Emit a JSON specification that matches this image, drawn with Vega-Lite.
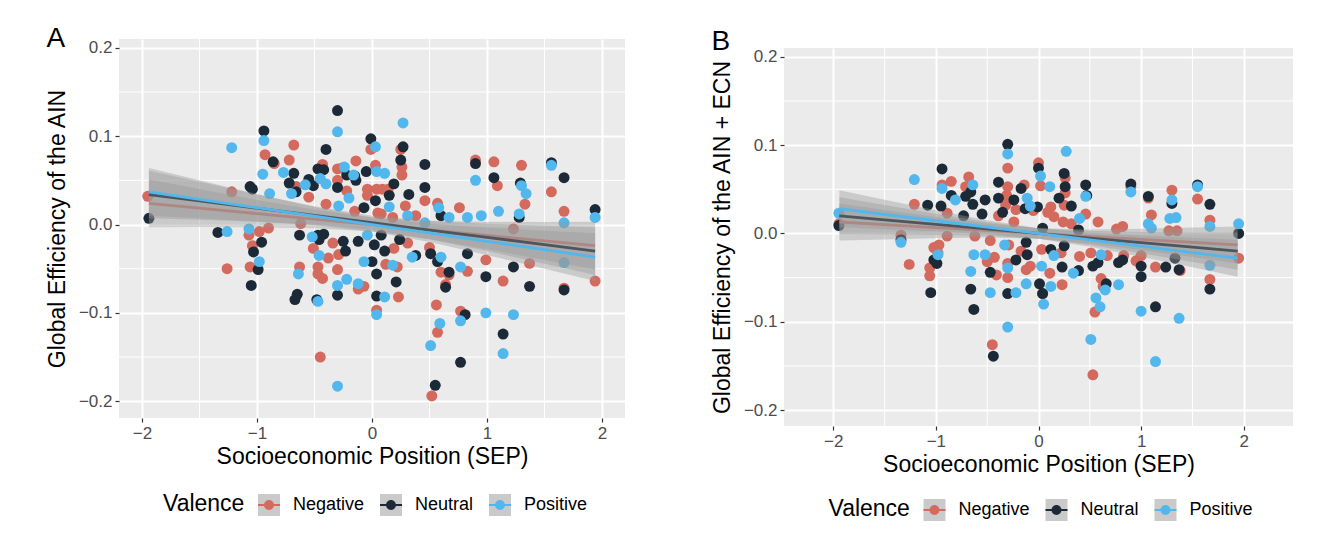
{
 "$schema": "https://vega.github.io/schema/vega-lite/v6.json",
 "background": "#FFFFFF",
 "padding": {"left": 46, "top": 24, "right": 5, "bottom": 0},
 "spacing": 85,
 "datasets": {
  "minorXA": [{"v": -1.5}, {"v": -0.5}, {"v": 0.5}, {"v": 1.5}],
  "minorY": [{"v": -0.15}, {"v": -0.05}, {"v": 0.05}, {"v": 0.15}],
  "ptsA": [
   {"SEP": -1.95, "GE": 0.032, "Valence": "Negative"}, {"SEP": -1.22, "GE": 0.037, "Valence": "Negative"}, {"SEP": -1.26, "GE": -0.05, "Valence": "Negative"}, {"SEP": -1.07, "GE": -0.012, "Valence": "Negative"}, {"SEP": -1.04, "GE": -0.024, "Valence": "Negative"}, {"SEP": -1.06, "GE": -0.048, "Valence": "Negative"}, {"SEP": -0.98, "GE": -0.008, "Valence": "Negative"}, {"SEP": -0.93, "GE": 0.079, "Valence": "Negative"}, {"SEP": -0.85, "GE": 0.069, "Valence": "Negative"}, {"SEP": -0.9, "GE": -0.004, "Valence": "Negative"}, {"SEP": -0.68, "GE": 0.09, "Valence": "Negative"}, {"SEP": -0.72, "GE": 0.073, "Valence": "Negative"}, {"SEP": -0.66, "GE": 0.043, "Valence": "Negative"}, {"SEP": -0.62, "GE": 0.001, "Valence": "Negative"}, {"SEP": -0.63, "GE": -0.048, "Valence": "Negative"}, {"SEP": -0.55, "GE": 0.031, "Valence": "Negative"}, {"SEP": -0.51, "GE": -0.027, "Valence": "Negative"}, {"SEP": -0.47, "GE": -0.048, "Valence": "Negative"}, {"SEP": -0.47, "GE": -0.056, "Valence": "Negative"}, {"SEP": -0.43, "GE": -0.061, "Valence": "Negative"}, {"SEP": -0.45, "GE": -0.15, "Valence": "Negative"}, {"SEP": -0.43, "GE": 0.068, "Valence": "Negative"}, {"SEP": -0.4, "GE": 0.023, "Valence": "Negative"}, {"SEP": -0.38, "GE": -0.038, "Valence": "Negative"}, {"SEP": -0.34, "GE": -0.021, "Valence": "Negative"}, {"SEP": -0.3, "GE": 0.05, "Valence": "Negative"}, {"SEP": -0.3, "GE": 0.063, "Valence": "Negative"}, {"SEP": -0.26, "GE": 0.064, "Valence": "Negative"}, {"SEP": -0.3, "GE": -0.051, "Valence": "Negative"}, {"SEP": -0.29, "GE": -0.034, "Valence": "Negative"}, {"SEP": -0.22, "GE": 0.038, "Valence": "Negative"}, {"SEP": -0.15, "GE": 0.015, "Valence": "Negative"}, {"SEP": -0.14, "GE": 0.072, "Valence": "Negative"}, {"SEP": -0.12, "GE": -0.073, "Valence": "Negative"}, {"SEP": -0.07, "GE": -0.07, "Valence": "Negative"}, {"SEP": -0.04, "GE": 0.033, "Valence": "Negative"}, {"SEP": -0.04, "GE": 0.04, "Valence": "Negative"}, {"SEP": -0.01, "GE": 0.085, "Valence": "Negative"}, {"SEP": 0.03, "GE": 0.067, "Valence": "Negative"}, {"SEP": 0.04, "GE": 0.04, "Valence": "Negative"}, {"SEP": 0.09, "GE": 0.04, "Valence": "Negative"}, {"SEP": 0.14, "GE": 0.04, "Valence": "Negative"}, {"SEP": 0.08, "GE": 0.012, "Valence": "Negative"}, {"SEP": 0.05, "GE": 0.013, "Valence": "Negative"}, {"SEP": 0.18, "GE": 0.008, "Valence": "Negative"}, {"SEP": 0.19, "GE": -0.027, "Valence": "Negative"}, {"SEP": 0.23, "GE": -0.082, "Valence": "Negative"}, {"SEP": 0.22, "GE": -0.048, "Valence": "Negative"}, {"SEP": 0.12, "GE": -0.045, "Valence": "Negative"}, {"SEP": 0.04, "GE": -0.097, "Valence": "Negative"}, {"SEP": 0.25, "GE": 0.085, "Valence": "Negative"}, {"SEP": 0.26, "GE": 0.065, "Valence": "Negative"}, {"SEP": 0.26, "GE": 0.056, "Valence": "Negative"}, {"SEP": 0.29, "GE": 0.021, "Valence": "Negative"}, {"SEP": 0.31, "GE": -0.021, "Valence": "Negative"}, {"SEP": 0.38, "GE": 0.01, "Valence": "Negative"}, {"SEP": 0.46, "GE": 0.027, "Valence": "Negative"}, {"SEP": 0.5, "GE": -0.026, "Valence": "Negative"}, {"SEP": 0.57, "GE": 0.024, "Valence": "Negative"}, {"SEP": 0.56, "GE": -0.091, "Valence": "Negative"}, {"SEP": 0.57, "GE": -0.122, "Valence": "Negative"}, {"SEP": 0.52, "GE": -0.194, "Valence": "Negative"}, {"SEP": 0.6, "GE": -0.054, "Valence": "Negative"}, {"SEP": 0.64, "GE": -0.068, "Valence": "Negative"}, {"SEP": 0.67, "GE": -0.057, "Valence": "Negative"}, {"SEP": 0.76, "GE": 0.019, "Valence": "Negative"}, {"SEP": 0.77, "GE": -0.098, "Valence": "Negative"}, {"SEP": 0.83, "GE": -0.053, "Valence": "Negative"}, {"SEP": 0.9, "GE": 0.073, "Valence": "Negative"}, {"SEP": 0.99, "GE": -0.04, "Valence": "Negative"}, {"SEP": 1.06, "GE": 0.071, "Valence": "Negative"}, {"SEP": 1.09, "GE": 0.044, "Valence": "Negative"}, {"SEP": 1.14, "GE": -0.064, "Valence": "Negative"}, {"SEP": 1.23, "GE": -0.005, "Valence": "Negative"}, {"SEP": 1.3, "GE": 0.067, "Valence": "Negative"}, {"SEP": 1.33, "GE": 0.023, "Valence": "Negative"}, {"SEP": 1.37, "GE": -0.044, "Valence": "Negative"}, {"SEP": 1.56, "GE": 0.037, "Valence": "Negative"}, {"SEP": 1.67, "GE": 0.015, "Valence": "Negative"}, {"SEP": 1.67, "GE": -0.072, "Valence": "Negative"}, {"SEP": 1.94, "GE": -0.064, "Valence": "Negative"},
   {"SEP": -1.94, "GE": 0.007, "Valence": "Neutral"}, {"SEP": -1.34, "GE": -0.009, "Valence": "Neutral"}, {"SEP": -1.06, "GE": 0.043, "Valence": "Neutral"}, {"SEP": -1.04, "GE": 0.04, "Valence": "Neutral"}, {"SEP": -0.94, "GE": 0.106, "Valence": "Neutral"}, {"SEP": -0.96, "GE": -0.02, "Valence": "Neutral"}, {"SEP": -1.03, "GE": -0.031, "Valence": "Neutral"}, {"SEP": -0.99, "GE": -0.051, "Valence": "Neutral"}, {"SEP": -1.05, "GE": -0.069, "Valence": "Neutral"}, {"SEP": -0.86, "GE": 0.071, "Valence": "Neutral"}, {"SEP": -0.68, "GE": 0.058, "Valence": "Neutral"}, {"SEP": -0.72, "GE": 0.047, "Valence": "Neutral"}, {"SEP": -0.66, "GE": 0.037, "Valence": "Neutral"}, {"SEP": -0.63, "GE": -0.012, "Valence": "Neutral"}, {"SEP": -0.67, "GE": -0.085, "Valence": "Neutral"}, {"SEP": -0.65, "GE": -0.079, "Valence": "Neutral"}, {"SEP": -0.55, "GE": 0.051, "Valence": "Neutral"}, {"SEP": -0.51, "GE": 0.044, "Valence": "Neutral"}, {"SEP": -0.4, "GE": 0.085, "Valence": "Neutral"}, {"SEP": -0.47, "GE": 0.063, "Valence": "Neutral"}, {"SEP": -0.42, "GE": 0.062, "Valence": "Neutral"}, {"SEP": -0.47, "GE": -0.012, "Valence": "Neutral"}, {"SEP": -0.46, "GE": -0.017, "Valence": "Neutral"}, {"SEP": -0.48, "GE": -0.085, "Valence": "Neutral"}, {"SEP": -0.42, "GE": -0.011, "Valence": "Neutral"}, {"SEP": -0.3, "GE": 0.129, "Valence": "Neutral"}, {"SEP": -0.3, "GE": -0.08, "Valence": "Neutral"}, {"SEP": -0.3, "GE": 0.042, "Valence": "Neutral"}, {"SEP": -0.22, "GE": 0.056, "Valence": "Neutral"}, {"SEP": -0.25, "GE": -0.019, "Valence": "Neutral"}, {"SEP": -0.23, "GE": -0.03, "Valence": "Neutral"}, {"SEP": -0.14, "GE": 0.05, "Valence": "Neutral"}, {"SEP": -0.15, "GE": 0.055, "Valence": "Neutral"}, {"SEP": -0.12, "GE": -0.019, "Valence": "Neutral"}, {"SEP": -0.05, "GE": 0.06, "Valence": "Neutral"}, {"SEP": -0.01, "GE": 0.097, "Valence": "Neutral"}, {"SEP": 0.03, "GE": 0.027, "Valence": "Neutral"}, {"SEP": -0.07, "GE": 0.019, "Valence": "Neutral"}, {"SEP": 0.02, "GE": -0.023, "Valence": "Neutral"}, {"SEP": 0.0, "GE": -0.042, "Valence": "Neutral"}, {"SEP": 0.04, "GE": -0.056, "Valence": "Neutral"}, {"SEP": 0.04, "GE": -0.081, "Valence": "Neutral"}, {"SEP": 0.08, "GE": -0.012, "Valence": "Neutral"}, {"SEP": 0.11, "GE": -0.03, "Valence": "Neutral"}, {"SEP": 0.15, "GE": 0.033, "Valence": "Neutral"}, {"SEP": 0.19, "GE": 0.046, "Valence": "Neutral"}, {"SEP": 0.25, "GE": 0.073, "Valence": "Neutral"}, {"SEP": 0.27, "GE": 0.088, "Valence": "Neutral"}, {"SEP": 0.21, "GE": -0.065, "Valence": "Neutral"}, {"SEP": 0.24, "GE": -0.017, "Valence": "Neutral"}, {"SEP": 0.32, "GE": 0.034, "Valence": "Neutral"}, {"SEP": 0.38, "GE": -0.035, "Valence": "Neutral"}, {"SEP": 0.46, "GE": 0.068, "Valence": "Neutral"}, {"SEP": 0.46, "GE": 0.042, "Valence": "Neutral"}, {"SEP": 0.51, "GE": -0.033, "Valence": "Neutral"}, {"SEP": 0.57, "GE": -0.042, "Valence": "Neutral"}, {"SEP": 0.6, "GE": 0.01, "Valence": "Neutral"}, {"SEP": 0.67, "GE": -0.054, "Valence": "Neutral"}, {"SEP": 0.64, "GE": -0.071, "Valence": "Neutral"}, {"SEP": 0.55, "GE": -0.182, "Valence": "Neutral"}, {"SEP": 0.77, "GE": -0.156, "Valence": "Neutral"}, {"SEP": 0.81, "GE": -0.102, "Valence": "Neutral"}, {"SEP": 0.83, "GE": -0.033, "Valence": "Neutral"}, {"SEP": 0.9, "GE": 0.069, "Valence": "Neutral"}, {"SEP": 0.99, "GE": -0.059, "Valence": "Neutral"}, {"SEP": 1.06, "GE": 0.053, "Valence": "Neutral"}, {"SEP": 1.14, "GE": -0.124, "Valence": "Neutral"}, {"SEP": 1.23, "GE": -0.048, "Valence": "Neutral"}, {"SEP": 1.28, "GE": 0.008, "Valence": "Neutral"}, {"SEP": 1.29, "GE": 0.047, "Valence": "Neutral"}, {"SEP": 1.37, "GE": -0.07, "Valence": "Neutral"}, {"SEP": 1.56, "GE": 0.07, "Valence": "Neutral"}, {"SEP": 1.67, "GE": 0.053, "Valence": "Neutral"}, {"SEP": 1.67, "GE": -0.074, "Valence": "Neutral"}, {"SEP": 1.94, "GE": 0.017, "Valence": "Neutral"},
   {"SEP": -1.22, "GE": 0.087, "Valence": "Positive"}, {"SEP": -1.26, "GE": -0.008, "Valence": "Positive"}, {"SEP": -1.07, "GE": -0.005, "Valence": "Positive"}, {"SEP": -0.98, "GE": -0.042, "Valence": "Positive"}, {"SEP": -0.94, "GE": 0.095, "Valence": "Positive"}, {"SEP": -0.95, "GE": 0.057, "Valence": "Positive"}, {"SEP": -0.89, "GE": 0.035, "Valence": "Positive"}, {"SEP": -0.77, "GE": 0.059, "Valence": "Positive"}, {"SEP": -0.7, "GE": 0.035, "Valence": "Positive"}, {"SEP": -0.64, "GE": -0.056, "Valence": "Positive"}, {"SEP": -0.52, "GE": -0.014, "Valence": "Positive"}, {"SEP": -0.45, "GE": 0.052, "Valence": "Positive"}, {"SEP": -0.46, "GE": -0.035, "Valence": "Positive"}, {"SEP": -0.47, "GE": -0.087, "Valence": "Positive"}, {"SEP": -0.4, "GE": 0.046, "Valence": "Positive"}, {"SEP": -0.3, "GE": 0.105, "Valence": "Positive"}, {"SEP": -0.3, "GE": -0.069, "Valence": "Positive"}, {"SEP": -0.29, "GE": 0.021, "Valence": "Positive"}, {"SEP": -0.3, "GE": -0.183, "Valence": "Positive"}, {"SEP": -0.22, "GE": -0.062, "Valence": "Positive"}, {"SEP": -0.24, "GE": 0.065, "Valence": "Positive"}, {"SEP": -0.16, "GE": 0.056, "Valence": "Positive"}, {"SEP": -0.12, "GE": -0.067, "Valence": "Positive"}, {"SEP": -0.07, "GE": -0.042, "Valence": "Positive"}, {"SEP": -0.04, "GE": -0.012, "Valence": "Positive"}, {"SEP": 0.03, "GE": 0.088, "Valence": "Positive"}, {"SEP": 0.04, "GE": 0.06, "Valence": "Positive"}, {"SEP": 0.11, "GE": 0.058, "Valence": "Positive"}, {"SEP": 0.04, "GE": -0.102, "Valence": "Positive"}, {"SEP": 0.11, "GE": -0.082, "Valence": "Positive"}, {"SEP": 0.18, "GE": -0.046, "Valence": "Positive"}, {"SEP": 0.27, "GE": 0.115, "Valence": "Positive"}, {"SEP": 0.31, "GE": 0.01, "Valence": "Positive"}, {"SEP": 0.35, "GE": -0.037, "Valence": "Positive"}, {"SEP": 0.46, "GE": 0.002, "Valence": "Positive"}, {"SEP": 0.58, "GE": 0.019, "Valence": "Positive"}, {"SEP": 0.59, "GE": -0.112, "Valence": "Positive"}, {"SEP": 0.51, "GE": -0.137, "Valence": "Positive"}, {"SEP": 0.6, "GE": -0.037, "Valence": "Positive"}, {"SEP": 0.67, "GE": 0.008, "Valence": "Positive"}, {"SEP": 0.77, "GE": -0.048, "Valence": "Positive"}, {"SEP": 0.77, "GE": -0.109, "Valence": "Positive"}, {"SEP": 0.83, "GE": 0.008, "Valence": "Positive"}, {"SEP": 0.9, "GE": 0.05, "Valence": "Positive"}, {"SEP": 0.95, "GE": 0.01, "Valence": "Positive"}, {"SEP": 0.99, "GE": -0.1, "Valence": "Positive"}, {"SEP": 1.1, "GE": 0.015, "Valence": "Positive"}, {"SEP": 1.14, "GE": -0.146, "Valence": "Positive"}, {"SEP": 1.23, "GE": -0.102, "Valence": "Positive"}, {"SEP": 1.3, "GE": 0.044, "Valence": "Positive"}, {"SEP": 1.34, "GE": 0.035, "Valence": "Positive"}, {"SEP": 1.28, "GE": 0.012, "Valence": "Positive"}, {"SEP": 1.56, "GE": 0.067, "Valence": "Positive"}, {"SEP": 1.67, "GE": 0.002, "Valence": "Positive"}, {"SEP": 1.67, "GE": -0.043, "Valence": "Positive"}, {"SEP": 1.94, "GE": 0.008, "Valence": "Positive"}, {"SEP": -0.58, "GE": 0.045, "Valence": "Positive"}, {"SEP": -0.2, "GE": 0.03, "Valence": "Positive"}, {"SEP": 0.15, "GE": 0.02, "Valence": "Positive"}
  ],
  "ptsB": [
   {"SEP": -1.945, "GE": 0.011, "Valence": "Negative"}, {"SEP": -1.34, "GE": -0.002, "Valence": "Negative"}, {"SEP": -1.26, "GE": -0.035, "Valence": "Negative"}, {"SEP": -1.21, "GE": 0.033, "Valence": "Negative"}, {"SEP": -1.06, "GE": -0.039, "Valence": "Negative"}, {"SEP": -1.06, "GE": -0.048, "Valence": "Negative"}, {"SEP": -1.02, "GE": -0.016, "Valence": "Negative"}, {"SEP": -0.97, "GE": -0.013, "Valence": "Negative"}, {"SEP": -0.98, "GE": -0.022, "Valence": "Negative"}, {"SEP": -0.94, "GE": 0.055, "Valence": "Negative"}, {"SEP": -0.85, "GE": 0.059, "Valence": "Negative"}, {"SEP": -0.89, "GE": -0.003, "Valence": "Negative"}, {"SEP": -0.89, "GE": 0.023, "Valence": "Negative"}, {"SEP": -0.68, "GE": 0.064, "Valence": "Negative"}, {"SEP": -0.71, "GE": 0.053, "Valence": "Negative"}, {"SEP": -0.62, "GE": -0.003, "Valence": "Negative"}, {"SEP": -0.47, "GE": -0.008, "Valence": "Negative"}, {"SEP": -0.5, "GE": -0.032, "Valence": "Negative"}, {"SEP": -0.43, "GE": -0.027, "Valence": "Negative"}, {"SEP": -0.41, "GE": -0.047, "Valence": "Negative"}, {"SEP": -0.45, "GE": -0.126, "Valence": "Negative"}, {"SEP": -0.39, "GE": 0.02, "Valence": "Negative"}, {"SEP": -0.32, "GE": 0.032, "Valence": "Negative"}, {"SEP": -0.31, "GE": 0.043, "Valence": "Negative"}, {"SEP": -0.3, "GE": 0.074, "Valence": "Negative"}, {"SEP": -0.3, "GE": 0.053, "Valence": "Negative"}, {"SEP": -0.29, "GE": -0.013, "Valence": "Negative"}, {"SEP": -0.3, "GE": -0.034, "Valence": "Negative"}, {"SEP": -0.3, "GE": -0.05, "Valence": "Negative"}, {"SEP": -0.24, "GE": 0.013, "Valence": "Negative"}, {"SEP": -0.22, "GE": 0.027, "Valence": "Negative"}, {"SEP": -0.14, "GE": 0.055, "Valence": "Negative"}, {"SEP": -0.17, "GE": -0.02, "Valence": "Negative"}, {"SEP": -0.12, "GE": -0.041, "Valence": "Negative"}, {"SEP": -0.08, "GE": -0.037, "Valence": "Negative"}, {"SEP": -0.05, "GE": 0.026, "Valence": "Negative"}, {"SEP": 0.0, "GE": 0.08, "Valence": "Negative"}, {"SEP": 0.02, "GE": 0.054, "Valence": "Negative"}, {"SEP": 0.03, "GE": -0.018, "Valence": "Negative"}, {"SEP": 0.04, "GE": -0.068, "Valence": "Negative"}, {"SEP": 0.09, "GE": 0.024, "Valence": "Negative"}, {"SEP": 0.12, "GE": 0.03, "Valence": "Negative"}, {"SEP": 0.15, "GE": 0.019, "Valence": "Negative"}, {"SEP": 0.11, "GE": -0.045, "Valence": "Negative"}, {"SEP": 0.23, "GE": -0.058, "Valence": "Negative"}, {"SEP": 0.22, "GE": -0.022, "Valence": "Negative"}, {"SEP": 0.26, "GE": 0.063, "Valence": "Negative"}, {"SEP": 0.26, "GE": 0.046, "Valence": "Negative"}, {"SEP": 0.25, "GE": 0.032, "Valence": "Negative"}, {"SEP": 0.24, "GE": 0.013, "Valence": "Negative"}, {"SEP": 0.32, "GE": 0.011, "Valence": "Negative"}, {"SEP": 0.4, "GE": -0.026, "Valence": "Negative"}, {"SEP": 0.46, "GE": 0.022, "Valence": "Negative"}, {"SEP": 0.51, "GE": -0.022, "Valence": "Negative"}, {"SEP": 0.58, "GE": 0.013, "Valence": "Negative"}, {"SEP": 0.55, "GE": -0.089, "Valence": "Negative"}, {"SEP": 0.61, "GE": -0.051, "Valence": "Negative"}, {"SEP": 0.63, "GE": -0.06, "Valence": "Negative"}, {"SEP": 0.67, "GE": -0.025, "Valence": "Negative"}, {"SEP": 0.76, "GE": 0.005, "Valence": "Negative"}, {"SEP": 0.82, "GE": 0.008, "Valence": "Negative"}, {"SEP": 0.83, "GE": -0.025, "Valence": "Negative"}, {"SEP": 0.9, "GE": 0.053, "Valence": "Negative"}, {"SEP": 0.95, "GE": -0.031, "Valence": "Negative"}, {"SEP": 1.0, "GE": -0.025, "Valence": "Negative"}, {"SEP": 1.07, "GE": 0.04, "Valence": "Negative"}, {"SEP": 1.1, "GE": 0.021, "Valence": "Negative"}, {"SEP": 1.14, "GE": -0.038, "Valence": "Negative"}, {"SEP": 0.53, "GE": -0.16, "Valence": "Negative"}, {"SEP": 1.3, "GE": 0.049, "Valence": "Negative"}, {"SEP": 1.35, "GE": 0.003, "Valence": "Negative"}, {"SEP": 1.27, "GE": 0.003, "Valence": "Negative"}, {"SEP": 1.38, "GE": -0.042, "Valence": "Negative"}, {"SEP": 1.55, "GE": 0.039, "Valence": "Negative"}, {"SEP": 1.67, "GE": 0.015, "Valence": "Negative"}, {"SEP": 1.67, "GE": -0.052, "Valence": "Negative"}, {"SEP": 1.95, "GE": -0.028, "Valence": "Negative"},
   {"SEP": -1.945, "GE": 0.009, "Valence": "Neutral"}, {"SEP": -1.34, "GE": -0.007, "Valence": "Neutral"}, {"SEP": -1.08, "GE": 0.032, "Valence": "Neutral"}, {"SEP": -0.94, "GE": 0.073, "Valence": "Neutral"}, {"SEP": -0.95, "GE": 0.031, "Valence": "Neutral"}, {"SEP": -0.85, "GE": 0.043, "Valence": "Neutral"}, {"SEP": -1.02, "GE": -0.03, "Valence": "Neutral"}, {"SEP": -0.99, "GE": -0.034, "Valence": "Neutral"}, {"SEP": -1.05, "GE": -0.067, "Valence": "Neutral"}, {"SEP": -0.73, "GE": 0.02, "Valence": "Neutral"}, {"SEP": -0.71, "GE": 0.042, "Valence": "Neutral"}, {"SEP": -0.66, "GE": 0.047, "Valence": "Neutral"}, {"SEP": -0.64, "GE": 0.033, "Valence": "Neutral"}, {"SEP": -0.66, "GE": -0.063, "Valence": "Neutral"}, {"SEP": -0.63, "GE": -0.086, "Valence": "Neutral"}, {"SEP": -0.52, "GE": 0.038, "Valence": "Neutral"}, {"SEP": -0.55, "GE": 0.022, "Valence": "Neutral"}, {"SEP": -0.47, "GE": -0.044, "Valence": "Neutral"}, {"SEP": -0.44, "GE": -0.139, "Valence": "Neutral"}, {"SEP": -0.39, "GE": 0.058, "Valence": "Neutral"}, {"SEP": -0.39, "GE": 0.04, "Valence": "Neutral"}, {"SEP": -0.35, "GE": 0.024, "Valence": "Neutral"}, {"SEP": -0.3, "GE": 0.101, "Valence": "Neutral"}, {"SEP": -0.3, "GE": -0.068, "Valence": "Neutral"}, {"SEP": -0.24, "GE": 0.038, "Valence": "Neutral"}, {"SEP": -0.22, "GE": -0.03, "Valence": "Neutral"}, {"SEP": -0.17, "GE": 0.051, "Valence": "Neutral"}, {"SEP": -0.13, "GE": 0.028, "Valence": "Neutral"}, {"SEP": -0.11, "GE": -0.024, "Valence": "Neutral"}, {"SEP": -0.12, "GE": -0.01, "Valence": "Neutral"}, {"SEP": 0.0, "GE": 0.074, "Valence": "Neutral"}, {"SEP": -0.01, "GE": 0.03, "Valence": "Neutral"}, {"SEP": 0.01, "GE": -0.057, "Valence": "Neutral"}, {"SEP": 0.04, "GE": -0.068, "Valence": "Neutral"}, {"SEP": 0.04, "GE": 0.006, "Valence": "Neutral"}, {"SEP": 0.12, "GE": -0.018, "Valence": "Neutral"}, {"SEP": 0.2, "GE": 0.04, "Valence": "Neutral"}, {"SEP": 0.25, "GE": 0.068, "Valence": "Neutral"}, {"SEP": 0.26, "GE": 0.053, "Valence": "Neutral"}, {"SEP": 0.32, "GE": 0.031, "Valence": "Neutral"}, {"SEP": 0.25, "GE": -0.014, "Valence": "Neutral"}, {"SEP": 0.23, "GE": -0.038, "Valence": "Neutral"}, {"SEP": 0.39, "GE": 0.004, "Valence": "Neutral"}, {"SEP": 0.39, "GE": -0.042, "Valence": "Neutral"}, {"SEP": 0.46, "GE": 0.055, "Valence": "Neutral"}, {"SEP": 0.47, "GE": 0.043, "Valence": "Neutral"}, {"SEP": 0.53, "GE": -0.037, "Valence": "Neutral"}, {"SEP": 0.58, "GE": -0.033, "Valence": "Neutral"}, {"SEP": 0.66, "GE": -0.057, "Valence": "Neutral"}, {"SEP": 0.78, "GE": -0.033, "Valence": "Neutral"}, {"SEP": 0.82, "GE": -0.03, "Valence": "Neutral"}, {"SEP": 0.9, "GE": 0.056, "Valence": "Neutral"}, {"SEP": 1.0, "GE": -0.037, "Valence": "Neutral"}, {"SEP": 1.0, "GE": -0.049, "Valence": "Neutral"}, {"SEP": 1.07, "GE": 0.042, "Valence": "Neutral"}, {"SEP": 1.14, "GE": -0.083, "Valence": "Neutral"}, {"SEP": 1.24, "GE": -0.038, "Valence": "Neutral"}, {"SEP": 1.3, "GE": 0.034, "Valence": "Neutral"}, {"SEP": 1.33, "GE": -0.028, "Valence": "Neutral"}, {"SEP": 1.37, "GE": -0.041, "Valence": "Neutral"}, {"SEP": 1.55, "GE": 0.055, "Valence": "Neutral"}, {"SEP": 1.67, "GE": 0.033, "Valence": "Neutral"}, {"SEP": 1.67, "GE": -0.063, "Valence": "Neutral"}, {"SEP": 1.95, "GE": 0.0, "Valence": "Neutral"},
   {"SEP": -1.945, "GE": 0.023, "Valence": "Positive"}, {"SEP": -1.34, "GE": -0.01, "Valence": "Positive"}, {"SEP": -1.21, "GE": 0.061, "Valence": "Positive"}, {"SEP": -0.94, "GE": 0.051, "Valence": "Positive"}, {"SEP": -0.98, "GE": -0.024, "Valence": "Positive"}, {"SEP": -0.81, "GE": 0.038, "Valence": "Positive"}, {"SEP": -0.63, "GE": -0.024, "Valence": "Positive"}, {"SEP": -0.66, "GE": -0.043, "Valence": "Positive"}, {"SEP": -0.64, "GE": 0.055, "Valence": "Positive"}, {"SEP": -0.52, "GE": -0.024, "Valence": "Positive"}, {"SEP": -0.47, "GE": -0.067, "Valence": "Positive"}, {"SEP": -0.33, "GE": -0.013, "Valence": "Positive"}, {"SEP": -0.3, "GE": 0.09, "Valence": "Positive"}, {"SEP": -0.3, "GE": -0.106, "Valence": "Positive"}, {"SEP": -0.3, "GE": -0.039, "Valence": "Positive"}, {"SEP": -0.22, "GE": -0.067, "Valence": "Positive"}, {"SEP": -0.12, "GE": -0.057, "Valence": "Positive"}, {"SEP": -0.11, "GE": 0.04, "Valence": "Positive"}, {"SEP": -0.08, "GE": 0.031, "Valence": "Positive"}, {"SEP": 0.02, "GE": 0.065, "Valence": "Positive"}, {"SEP": 0.03, "GE": -0.037, "Valence": "Positive"}, {"SEP": 0.05, "GE": -0.08, "Valence": "Positive"}, {"SEP": 0.11, "GE": 0.053, "Valence": "Positive"}, {"SEP": 0.12, "GE": -0.06, "Valence": "Positive"}, {"SEP": 0.15, "GE": -0.025, "Valence": "Positive"}, {"SEP": 0.27, "GE": 0.093, "Valence": "Positive"}, {"SEP": 0.34, "GE": -0.045, "Valence": "Positive"}, {"SEP": 0.4, "GE": 0.017, "Valence": "Positive"}, {"SEP": 0.46, "GE": 0.042, "Valence": "Positive"}, {"SEP": 0.51, "GE": -0.12, "Valence": "Positive"}, {"SEP": 0.56, "GE": -0.073, "Valence": "Positive"}, {"SEP": 0.6, "GE": -0.083, "Valence": "Positive"}, {"SEP": 0.61, "GE": -0.024, "Valence": "Positive"}, {"SEP": 0.65, "GE": -0.064, "Valence": "Positive"}, {"SEP": 0.78, "GE": -0.058, "Valence": "Positive"}, {"SEP": 0.9, "GE": 0.047, "Valence": "Positive"}, {"SEP": 1.0, "GE": -0.088, "Valence": "Positive"}, {"SEP": 1.07, "GE": 0.011, "Valence": "Positive"}, {"SEP": 1.14, "GE": -0.145, "Valence": "Positive"}, {"SEP": 1.1, "GE": 0.006, "Valence": "Positive"}, {"SEP": 1.28, "GE": 0.017, "Valence": "Positive"}, {"SEP": 1.34, "GE": 0.018, "Valence": "Positive"}, {"SEP": 1.3, "GE": 0.038, "Valence": "Positive"}, {"SEP": 1.37, "GE": -0.096, "Valence": "Positive"}, {"SEP": 1.55, "GE": 0.053, "Valence": "Positive"}, {"SEP": 1.67, "GE": 0.008, "Valence": "Positive"}, {"SEP": 1.67, "GE": -0.036, "Valence": "Positive"}, {"SEP": 1.95, "GE": 0.011, "Valence": "Positive"}
  ],
  "fitA": [
   {"SEP": -1.94, "fit": 0.024, "lo": -0.003, "hi": 0.051, "Valence": "Negative"}, {"SEP": -1.5, "fit": 0.0186, "lo": -0.0029, "hi": 0.0401, "Valence": "Negative"}, {"SEP": -1, "fit": 0.0124, "lo": -0.0031, "hi": 0.0279, "Valence": "Negative"}, {"SEP": -0.5, "fit": 0.0062, "lo": -0.0042, "hi": 0.0166, "Valence": "Negative"}, {"SEP": 0, "fit": 0, "lo": -0.008, "hi": 0.008, "Valence": "Negative"}, {"SEP": 0.5, "fit": -0.0062, "lo": -0.0166, "hi": 0.0042, "Valence": "Negative"}, {"SEP": 1, "fit": -0.0124, "lo": -0.0279, "hi": 0.0031, "Valence": "Negative"}, {"SEP": 1.5, "fit": -0.0186, "lo": -0.0401, "hi": 0.0029, "Valence": "Negative"}, {"SEP": 1.94, "fit": -0.024, "lo": -0.051, "hi": 0.003, "Valence": "Negative"},
   {"SEP": -1.94, "fit": 0.034, "lo": 0.007, "hi": 0.061, "Valence": "Neutral"}, {"SEP": -1.5, "fit": 0.0268, "lo": 0.0053, "hi": 0.0483, "Valence": "Neutral"}, {"SEP": -1, "fit": 0.0185, "lo": 0.003, "hi": 0.034, "Valence": "Neutral"}, {"SEP": -0.5, "fit": 0.0103, "lo": -0.0001, "hi": 0.0207, "Valence": "Neutral"}, {"SEP": 0, "fit": 0.002, "lo": -0.006, "hi": 0.01, "Valence": "Neutral"}, {"SEP": 0.5, "fit": -0.0063, "lo": -0.0167, "hi": 0.0041, "Valence": "Neutral"}, {"SEP": 1, "fit": -0.0145, "lo": -0.03, "hi": 0.001, "Valence": "Neutral"}, {"SEP": 1.5, "fit": -0.0228, "lo": -0.0443, "hi": -0.0013, "Valence": "Neutral"}, {"SEP": 1.94, "fit": -0.03, "lo": -0.057, "hi": -0.003, "Valence": "Neutral"},
   {"SEP": -1.94, "fit": 0.0369, "lo": 0.0099, "hi": 0.0639, "Valence": "Positive"}, {"SEP": -1.5, "fit": 0.0285, "lo": 0.007, "hi": 0.05, "Valence": "Positive"}, {"SEP": -1, "fit": 0.019, "lo": 0.0035, "hi": 0.0345, "Valence": "Positive"}, {"SEP": -0.5, "fit": 0.0095, "lo": -0.0009, "hi": 0.0199, "Valence": "Positive"}, {"SEP": 0, "fit": 0, "lo": -0.008, "hi": 0.008, "Valence": "Positive"}, {"SEP": 0.5, "fit": -0.0095, "lo": -0.0199, "hi": 0.0009, "Valence": "Positive"}, {"SEP": 1, "fit": -0.019, "lo": -0.0345, "hi": -0.0035, "Valence": "Positive"}, {"SEP": 1.5, "fit": -0.0285, "lo": -0.05, "hi": -0.007, "Valence": "Positive"}, {"SEP": 1.94, "fit": -0.0369, "lo": -0.0639, "hi": -0.0099, "Valence": "Positive"}
  ],
  "fitB": [
   {"SEP": -1.94, "fit": 0.013, "lo": -0.008, "hi": 0.034, "Valence": "Negative"}, {"SEP": -1.5, "fit": 0.01, "lo": -0.0067, "hi": 0.0267, "Valence": "Negative"}, {"SEP": -1, "fit": 0.0067, "lo": -0.0053, "hi": 0.0187, "Valence": "Negative"}, {"SEP": -0.5, "fit": 0.0034, "lo": -0.0045, "hi": 0.0113, "Valence": "Negative"}, {"SEP": 0, "fit": 0, "lo": -0.006, "hi": 0.006, "Valence": "Negative"}, {"SEP": 0.5, "fit": -0.0034, "lo": -0.0113, "hi": 0.0045, "Valence": "Negative"}, {"SEP": 1, "fit": -0.0067, "lo": -0.0187, "hi": 0.0053, "Valence": "Negative"}, {"SEP": 1.5, "fit": -0.01, "lo": -0.0267, "hi": 0.0067, "Valence": "Negative"}, {"SEP": 1.94, "fit": -0.013, "lo": -0.034, "hi": 0.008, "Valence": "Negative"},
   {"SEP": -1.94, "fit": 0.02, "lo": -0.001, "hi": 0.041, "Valence": "Neutral"}, {"SEP": -1.5, "fit": 0.0155, "lo": -0.0012, "hi": 0.0322, "Valence": "Neutral"}, {"SEP": -1, "fit": 0.0103, "lo": -0.0017, "hi": 0.0223, "Valence": "Neutral"}, {"SEP": -0.5, "fit": 0.0052, "lo": -0.0027, "hi": 0.0131, "Valence": "Neutral"}, {"SEP": 0, "fit": 0, "lo": -0.006, "hi": 0.006, "Valence": "Neutral"}, {"SEP": 0.5, "fit": -0.0052, "lo": -0.0131, "hi": 0.0027, "Valence": "Neutral"}, {"SEP": 1, "fit": -0.0103, "lo": -0.0223, "hi": 0.0017, "Valence": "Neutral"}, {"SEP": 1.5, "fit": -0.0155, "lo": -0.0322, "hi": 0.0012, "Valence": "Neutral"}, {"SEP": 1.94, "fit": -0.02, "lo": -0.041, "hi": 0.001, "Valence": "Neutral"},
   {"SEP": -1.94, "fit": 0.028, "lo": 0.007, "hi": 0.049, "Valence": "Positive"}, {"SEP": -1.5, "fit": 0.0216, "lo": 0.0049, "hi": 0.0383, "Valence": "Positive"}, {"SEP": -1, "fit": 0.0144, "lo": 0.0024, "hi": 0.0264, "Valence": "Positive"}, {"SEP": -0.5, "fit": 0.0072, "lo": -0.0007, "hi": 0.0151, "Valence": "Positive"}, {"SEP": 0, "fit": 0, "lo": -0.006, "hi": 0.006, "Valence": "Positive"}, {"SEP": 0.5, "fit": -0.0072, "lo": -0.0151, "hi": 0.0007, "Valence": "Positive"}, {"SEP": 1, "fit": -0.0144, "lo": -0.0264, "hi": -0.0024, "Valence": "Positive"}, {"SEP": 1.5, "fit": -0.0216, "lo": -0.0383, "hi": -0.0049, "Valence": "Positive"}, {"SEP": 1.94, "fit": -0.028, "lo": -0.049, "hi": -0.007, "Valence": "Positive"}
  ]
 },
 "hconcat": [
  {
   "width": 506,
   "height": 379,
   "title": {"text": "A", "offset": -14},
   "layer": [
    {"data": {"name": "minorXA"}, "mark": {"type": "rule", "stroke": "#FFFFFF", "strokeWidth": 1}, "encoding": {"x": {"field": "v", "type": "quantitative", "scale": {"domain": [-2.2, 2.2], "nice": false, "zero": false}, "axis": {"values": [-2, -1, 0, 1, 2], "format": "d"}, "title": "Socioeconomic Position (SEP)"}}},
    {"data": {"name": "minorY"}, "mark": {"type": "rule", "stroke": "#FFFFFF", "strokeWidth": 1}, "encoding": {"y": {"field": "v", "type": "quantitative", "scale": {"domain": [-0.219, 0.21], "nice": false, "zero": false}, "axis": {"values": [-0.2, -0.1, 0, 0.1, 0.2], "format": ".1f"}, "title": "Global Efficiency of the AIN"}}},
    {"data": {"name": "fitA"}, "mark": {"type": "square", "opacity": 0, "size": 0},
     "encoding": {
      "x": {"field": "SEP", "type": "quantitative", "scale": {"domain": [-2.2, 2.2], "nice": false, "zero": false}, "axis": {"values": [-2, -1, 0, 1, 2], "format": "d"}, "title": "Socioeconomic Position (SEP)"},
      "y": {"field": "fit", "type": "quantitative", "scale": {"domain": [-0.219, 0.21], "nice": false, "zero": false}, "axis": {"values": [-0.2, -0.1, 0, 0.1, 0.2], "format": ".1f"}, "title": "Global Efficiency of the AIN"},
      "fill": {"field": "Valence", "type": "nominal", "scale": {"domain": ["Positive", "Neutral", "Negative"], "range": ["#CACACA", "#CACACA", "#CACACA"]},
       "legend": {"orient": "none", "legendX": 44, "legendY": 455, "direction": "horizontal", "columns": 3, "title": "Valence", "titleColor": "rgba(0,0,0,0)", "labelColor": "rgba(0,0,0,0)", "symbolType": "square", "symbolOpacity": 1, "labelExpr": "datum.value == 'Positive' ? 'Negative' : datum.value == 'Negative' ? 'Positive' : 'Neutral'"}}
     }},
    {"data": {"name": "ptsA"}, "mark": {"type": "circle", "size": 120, "opacity": 1},
     "encoding": {
      "x": {"field": "SEP", "type": "quantitative", "scale": {"domain": [-2.2, 2.2], "nice": false, "zero": false}, "axis": {"values": [-2, -1, 0, 1, 2], "format": "d"}, "title": "Socioeconomic Position (SEP)"},
      "y": {"field": "GE", "type": "quantitative", "scale": {"domain": [-0.219, 0.21], "nice": false, "zero": false}, "axis": {"values": [-0.2, -0.1, 0, 0.1, 0.2], "format": ".1f"}, "title": "Global Efficiency of the AIN"},
      "color": {"field": "Valence", "type": "nominal", "scale": {"domain": ["Negative", "Neutral", "Positive"], "range": ["#D4695D", "#1C2A38", "#52B7EC"]},
       "legend": {"orient": "none", "legendX": 44, "legendY": 455, "direction": "horizontal", "columns": 3, "title": "Valence"}}
     }},
    {"data": {"name": "fitA"}, "transform": [{"filter": "datum.Valence == 'Negative'"}], "mark": {"type": "area", "fill": "#999999", "opacity": 0.4}, "encoding": {"x": {"field": "SEP", "type": "quantitative"}, "y": {"field": "lo", "type": "quantitative"}, "y2": {"field": "hi"}}},
    {"data": {"name": "fitA"}, "transform": [{"filter": "datum.Valence == 'Negative'"}], "mark": {"type": "line", "strokeWidth": 2.8}, "encoding": {"x": {"field": "SEP", "type": "quantitative"}, "y": {"field": "fit", "type": "quantitative"}, "color": {"field": "Valence", "type": "nominal"}}},
    {"data": {"name": "fitA"}, "transform": [{"filter": "datum.Valence == 'Neutral'"}], "mark": {"type": "area", "fill": "#999999", "opacity": 0.4}, "encoding": {"x": {"field": "SEP", "type": "quantitative"}, "y": {"field": "lo", "type": "quantitative"}, "y2": {"field": "hi"}}},
    {"data": {"name": "fitA"}, "transform": [{"filter": "datum.Valence == 'Neutral'"}], "mark": {"type": "line", "strokeWidth": 2.8}, "encoding": {"x": {"field": "SEP", "type": "quantitative"}, "y": {"field": "fit", "type": "quantitative"}, "color": {"field": "Valence", "type": "nominal"}}},
    {"data": {"name": "fitA"}, "transform": [{"filter": "datum.Valence == 'Positive'"}], "mark": {"type": "area", "fill": "#999999", "opacity": 0.4}, "encoding": {"x": {"field": "SEP", "type": "quantitative"}, "y": {"field": "lo", "type": "quantitative"}, "y2": {"field": "hi"}}},
    {"data": {"name": "fitA"}, "transform": [{"filter": "datum.Valence == 'Positive'"}], "mark": {"type": "line", "strokeWidth": 2.8}, "encoding": {"x": {"field": "SEP", "type": "quantitative"}, "y": {"field": "fit", "type": "quantitative"}, "color": {"field": "Valence", "type": "nominal"}}}
   ]
  },
  {
   "title": {"text": "B", "offset": -17},
   "spacing": 7,
   "vconcat": [
    {"width": 509, "height": 1, "view": {"fill": null, "stroke": null}, "data": {"name": "minorY"}, "mark": {"type": "point", "opacity": 0, "size": 0}, "encoding": {}},
    {
     "width": 509,
     "height": 378,
     "layer": [
      {"data": {"name": "minorXA"}, "mark": {"type": "rule", "stroke": "#FFFFFF", "strokeWidth": 1}, "encoding": {"x": {"field": "v", "type": "quantitative", "scale": {"domain": [-2.48, 2.48], "nice": false, "zero": false}, "axis": {"values": [-2, -1, 0, 1, 2], "format": "d"}, "title": "Socioeconomic Position (SEP)"}}},
      {"data": {"name": "minorY"}, "mark": {"type": "rule", "stroke": "#FFFFFF", "strokeWidth": 1}, "encoding": {"y": {"field": "v", "type": "quantitative", "scale": {"domain": [-0.218, 0.21], "nice": false, "zero": false}, "axis": {"values": [-0.2, -0.1, 0, 0.1, 0.2], "format": ".1f"}, "title": "Global Efficiency of the AIN + ECN"}}},
      {"data": {"name": "fitB"}, "mark": {"type": "square", "opacity": 0, "size": 0},
       "encoding": {
        "x": {"field": "SEP", "type": "quantitative", "scale": {"domain": [-2.48, 2.48], "nice": false, "zero": false}, "axis": {"values": [-2, -1, 0, 1, 2], "format": "d"}, "title": "Socioeconomic Position (SEP)"},
        "y": {"field": "fit", "type": "quantitative", "scale": {"domain": [-0.218, 0.21], "nice": false, "zero": false}, "axis": {"values": [-0.2, -0.1, 0, 0.1, 0.2], "format": ".1f"}, "title": "Global Efficiency of the AIN + ECN"},
        "fill": {"field": "Valence", "type": "nominal", "scale": {"domain": ["Positive", "Neutral", "Negative"], "range": ["#CACACA", "#CACACA", "#CACACA"]},
         "legend": {"orient": "none", "legendX": 44.5, "legendY": 460, "direction": "horizontal", "columns": 3, "title": "Valence", "titleColor": "rgba(0,0,0,0)", "labelColor": "rgba(0,0,0,0)", "symbolType": "square", "symbolOpacity": 1, "labelExpr": "datum.value == 'Positive' ? 'Negative' : datum.value == 'Negative' ? 'Positive' : 'Neutral'"}}
       }},
      {"data": {"name": "ptsB"}, "mark": {"type": "circle", "size": 120, "opacity": 1},
       "encoding": {
        "x": {"field": "SEP", "type": "quantitative", "scale": {"domain": [-2.48, 2.48], "nice": false, "zero": false}, "axis": {"values": [-2, -1, 0, 1, 2], "format": "d"}, "title": "Socioeconomic Position (SEP)"},
        "y": {"field": "GE", "type": "quantitative", "scale": {"domain": [-0.218, 0.21], "nice": false, "zero": false}, "axis": {"values": [-0.2, -0.1, 0, 0.1, 0.2], "format": ".1f"}, "title": "Global Efficiency of the AIN + ECN"},
        "color": {"field": "Valence", "type": "nominal", "scale": {"domain": ["Negative", "Neutral", "Positive"], "range": ["#D4695D", "#1C2A38", "#52B7EC"]},
         "legend": {"orient": "none", "legendX": 44.5, "legendY": 460, "direction": "horizontal", "columns": 3, "title": "Valence"}}
       }},
      {"data": {"name": "fitB"}, "transform": [{"filter": "datum.Valence == 'Negative'"}], "mark": {"type": "area", "fill": "#999999", "opacity": 0.4}, "encoding": {"x": {"field": "SEP", "type": "quantitative"}, "y": {"field": "lo", "type": "quantitative"}, "y2": {"field": "hi"}}},
      {"data": {"name": "fitB"}, "transform": [{"filter": "datum.Valence == 'Negative'"}], "mark": {"type": "line", "strokeWidth": 2.8}, "encoding": {"x": {"field": "SEP", "type": "quantitative"}, "y": {"field": "fit", "type": "quantitative"}, "color": {"field": "Valence", "type": "nominal"}}},
      {"data": {"name": "fitB"}, "transform": [{"filter": "datum.Valence == 'Neutral'"}], "mark": {"type": "area", "fill": "#999999", "opacity": 0.4}, "encoding": {"x": {"field": "SEP", "type": "quantitative"}, "y": {"field": "lo", "type": "quantitative"}, "y2": {"field": "hi"}}},
      {"data": {"name": "fitB"}, "transform": [{"filter": "datum.Valence == 'Neutral'"}], "mark": {"type": "line", "strokeWidth": 2.8}, "encoding": {"x": {"field": "SEP", "type": "quantitative"}, "y": {"field": "fit", "type": "quantitative"}, "color": {"field": "Valence", "type": "nominal"}}},
      {"data": {"name": "fitB"}, "transform": [{"filter": "datum.Valence == 'Positive'"}], "mark": {"type": "area", "fill": "#999999", "opacity": 0.4}, "encoding": {"x": {"field": "SEP", "type": "quantitative"}, "y": {"field": "lo", "type": "quantitative"}, "y2": {"field": "hi"}}},
      {"data": {"name": "fitB"}, "transform": [{"filter": "datum.Valence == 'Positive'"}], "mark": {"type": "line", "strokeWidth": 2.8}, "encoding": {"x": {"field": "SEP", "type": "quantitative"}, "y": {"field": "fit", "type": "quantitative"}, "color": {"field": "Valence", "type": "nominal"}}}
     ]
    }
   ]
  }
 ],
 "resolve": {"scale": {"color": "independent", "fill": "independent"}, "legend": {"color": "independent", "fill": "independent"}},
 "config": {
  "font": "Liberation Sans",
  "view": {"fill": "#EBEBEB", "stroke": null},
  "axis": {"labelFontSize": 17, "labelColor": "#4D4D4D", "titleFontSize": 23, "titleFontWeight": "normal", "titleColor": "#000000", "tickColor": "#333333", "tickSize": 4, "tickWidth": 1.2, "domain": false, "gridColor": "#FFFFFF", "gridWidth": 2, "labelPadding": 3},
  "axisX": {"titlePadding": 4},
  "axisY": {"titlePadding": 9},
  "legend": {"titleOrient": "left", "titleFontSize": 23, "titleFontWeight": "normal", "titleColor": "#000000", "titlePadding": 13, "labelFontSize": 18, "labelColor": "#000000", "symbolType": "M-1,-0.1H1V0.1H-1Z M0.45,0A0.45,0.45 0 1,1 -0.45,0A0.45,0.45 0 1,1 0.45,0Z", "symbolSize": 484, "symbolStrokeWidth": 0, "symbolOpacity": 1, "labelOffset": 13, "columnPadding": 15},
  "title": {"fontSize": 28, "fontWeight": "normal", "anchor": "start", "frame": "bounds", "color": "#000000"}
 }
}
